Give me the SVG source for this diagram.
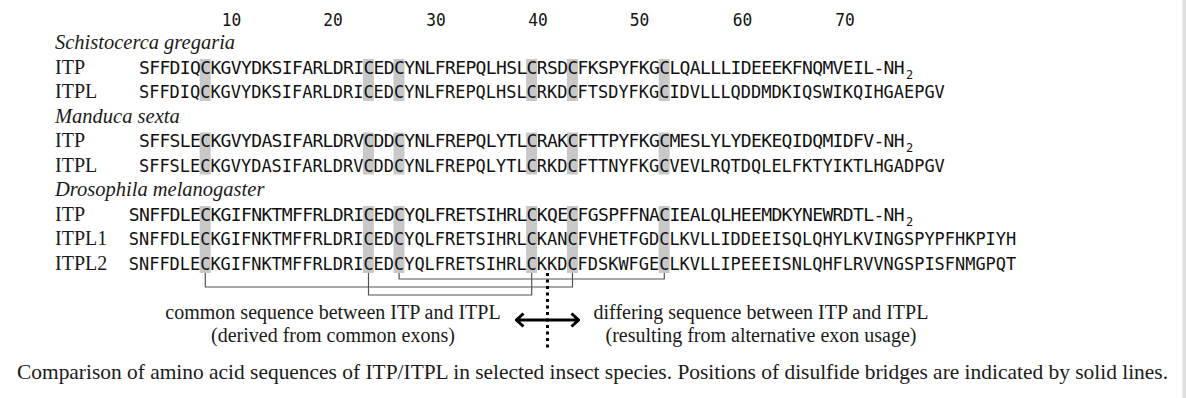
<svg xmlns="http://www.w3.org/2000/svg" width="1186" height="398" viewBox="0 0 1186 398">
<style>
.seq{font-family:"DejaVu Sans Mono","Liberation Mono",monospace;font-size:18px;fill:#111}
.num{font-family:"DejaVu Sans Mono","Liberation Mono",monospace;font-size:18px;fill:#111;text-anchor:middle}
.lab{font-family:"Liberation Serif","Times New Roman",serif;font-size:20px;fill:#1a1a1a}
.sp{font-family:"Liberation Serif","Times New Roman",serif;font-size:20.5px;font-style:italic;fill:#1a1a1a}
.note{font-family:"Liberation Serif","Times New Roman",serif;font-size:20px;fill:#1a1a1a;text-anchor:middle}
.cap{font-family:"Liberation Serif","Times New Roman",serif;font-size:21px;fill:#1a1a1a}
.hl{fill:#c8c8c8}
.sub{font-family:"DejaVu Sans Mono","Liberation Mono",monospace;font-size:12px;fill:#111}
.br{fill:none;stroke:#555;stroke-width:1.2}
</style>
<defs>
<marker id="chev" viewBox="0 0 10 16" markerWidth="10" markerHeight="16" refX="9" refY="8" orient="auto-start-reverse" markerUnits="userSpaceOnUse">
<path d="M1.5 1.5 L8.5 8 L1.5 14.5" fill="none" stroke="#000" stroke-width="3"/>
</marker>
</defs>
<rect x="0" y="0" width="1186" height="398" fill="#fff"/>
<rect x="1182.5" y="0" width="3.5" height="398" fill="#dedede"/>

<g id="highlights">
<g id="hl-schistocerca">
<rect class="hl" x="199.7" y="59" width="11" height="42"/>
<rect class="hl" x="362.9" y="59" width="11" height="42"/>
<rect class="hl" x="393.5" y="59" width="11" height="42"/>
<rect class="hl" x="526.1" y="59" width="11" height="42"/>
<rect class="hl" x="566.9" y="59" width="11" height="42"/>
<rect class="hl" x="658.7" y="59" width="11" height="42"/>
</g>
<g id="hl-manduca">
<rect class="hl" x="199.7" y="132.5" width="11" height="42"/>
<rect class="hl" x="362.9" y="132.5" width="11" height="42"/>
<rect class="hl" x="393.5" y="132.5" width="11" height="42"/>
<rect class="hl" x="526.1" y="132.5" width="11" height="42"/>
<rect class="hl" x="566.9" y="132.5" width="11" height="42"/>
<rect class="hl" x="658.7" y="132.5" width="11" height="42"/>
</g>
<g id="hl-drosophila">
<rect class="hl" x="199.7" y="206" width="11" height="67"/>
<rect class="hl" x="362.9" y="206" width="11" height="67"/>
<rect class="hl" x="393.5" y="206" width="11" height="67"/>
<rect class="hl" x="526.1" y="206" width="11" height="67"/>
<rect class="hl" x="566.9" y="206" width="11" height="67"/>
<rect class="hl" x="658.7" y="206" width="11" height="67"/>
</g>
</g>

<g id="numbers">
<text class="num" x="231.5" y="25.5" textLength="19.5" lengthAdjust="spacingAndGlyphs">10</text>
<text class="num" x="333" y="25.5" textLength="19.5" lengthAdjust="spacingAndGlyphs">20</text>
<text class="num" x="436" y="25.5" textLength="19.5" lengthAdjust="spacingAndGlyphs">30</text>
<text class="num" x="538" y="25.5" textLength="19.5" lengthAdjust="spacingAndGlyphs">40</text>
<text class="num" x="639.5" y="25.5" textLength="19.5" lengthAdjust="spacingAndGlyphs">50</text>
<text class="num" x="742.5" y="25.5" textLength="19.5" lengthAdjust="spacingAndGlyphs">60</text>
<text class="num" x="845" y="25.5" textLength="19.5" lengthAdjust="spacingAndGlyphs">70</text>
</g>

<g id="species-schistocerca"><text class="sp" x="55" y="49">Schistocerca gregaria</text></g>
<g id="schistocerca-itp">
<text class="lab" x="55" y="73.5">ITP</text>
<text class="seq" x="139 149.2 159.4 169.6 179.8 190 200.2 210.4 220.6 230.8 241 251.2 261.4 271.6 281.8 292 302.2 312.4 322.6 332.8 343 353.2 363.4 373.6 383.8 394 404.2 414.4 424.6 434.8 445 455.2 465.4 475.6 485.8 496 506.2 516.4 526.6 536.8 547 557.2 567.4 577.6 587.8 598 608.2 618.4 628.6 638.8 649 659.2 669.4 679.6 689.8 700 710.2 720.4 730.6 740.8 751 761.2 771.4 781.6 791.8 802 812.2 822.4 832.6 842.8 853 863.2 873.4 883.6 893.8" y="73.5">SFFDIQCKGVYDKSIFARLDRICEDCYNLFREPQLHSLCRSDCFKSPYFKGCLQALLLIDEEEKFNQMVEIL-NH</text>
<text class="sub" x="906" y="78.5">2</text>
</g>
<g id="schistocerca-itpl">
<text class="lab" x="55" y="98">ITPL</text>
<text class="seq" x="139" y="98" textLength="805.8" lengthAdjust="spacingAndGlyphs">SFFDIQCKGVYDKSIFARLDRICEDCYNLFREPQLHSLCRKDCFTSDYFKGCIDVLLLQDDMDKIQSWIKQIHGAEPGV</text>
</g>

<g id="species-manduca"><text class="sp" x="55" y="122.5">Manduca sexta</text></g>
<g id="manduca-itp">
<text class="lab" x="55" y="147">ITP</text>
<text class="seq" x="139 149.2 159.4 169.6 179.8 190 200.2 210.4 220.6 230.8 241 251.2 261.4 271.6 281.8 292 302.2 312.4 322.6 332.8 343 353.2 363.4 373.6 383.8 394 404.2 414.4 424.6 434.8 445 455.2 465.4 475.6 485.8 496 506.2 516.4 526.6 536.8 547 557.2 567.4 577.6 587.8 598 608.2 618.4 628.6 638.8 649 659.2 669.4 679.6 689.8 700 710.2 720.4 730.6 740.8 751 761.2 771.4 781.6 791.8 802 812.2 822.4 832.6 842.8 853 863.2 873.4 883.6 893.8" y="147">SFFSLECKGVYDASIFARLDRVCDDCYNLFREPQLYTLCRAKCFTTPYFKGCMESLYLYDEKEQIDQMIDFV-NH</text>
<text class="sub" x="906" y="152">2</text>
</g>
<g id="manduca-itpl">
<text class="lab" x="55" y="171.5">ITPL</text>
<text class="seq" x="139" y="171.5" textLength="805.8" lengthAdjust="spacingAndGlyphs">SFFSLECKGVYDASIFARLDRVCDDCYNLFREPQLYTLCRKDCFTTNYFKGCVEVLRQTDQLELFKTYIKTLHGADPGV</text>
</g>

<g id="species-drosophila"><text class="sp" x="55" y="196">Drosophila melanogaster</text></g>
<g id="drosophila-itp">
<text class="lab" x="55" y="220.5">ITP</text>
<text class="seq" x="128.8 139 149.2 159.4 169.6 179.8 190 200.2 210.4 220.6 230.8 241 251.2 261.4 271.6 281.8 292 302.2 312.4 322.6 332.8 343 353.2 363.4 373.6 383.8 394 404.2 414.4 424.6 434.8 445 455.2 465.4 475.6 485.8 496 506.2 516.4 526.6 536.8 547 557.2 567.4 577.6 587.8 598 608.2 618.4 628.6 638.8 649 659.2 669.4 679.6 689.8 700 710.2 720.4 730.6 740.8 751 761.2 771.4 781.6 791.8 802 812.2 822.4 832.6 842.8 853 863.2 873.4 883.6 893.8" y="220.5">SNFFDLECKGIFNKTMFFRLDRICEDCYQLFRETSIHRLCKQECFGSPFFNACIEALQLHEEMDKYNEWRDTL-NH</text>
<text class="sub" x="906" y="225.5">2</text>
</g>
<g id="drosophila-itpl1">
<text class="lab" x="55" y="245">ITPL1</text>
<text class="seq" x="128.8" y="245" textLength="887.4" lengthAdjust="spacingAndGlyphs">SNFFDLECKGIFNKTMFFRLDRICEDCYQLFRETSIHRLCKANCFVHETFGDCLKVLLIDDEEISQLQHYLKVINGSPYPFHKPIYH</text>
</g>
<g id="drosophila-itpl2">
<text class="lab" x="55" y="269.5">ITPL2</text>
<text class="seq" x="128.8" y="269.5" textLength="887.4" lengthAdjust="spacingAndGlyphs">SNFFDLECKGIFNKTMFFRLDRICEDCYQLFRETSIHRLCKKDCFDSKWFGECLKVLLIPEEEISNLQHFLRVVNGSPISFNMGPQT</text>
</g>

<g id="connectors">
<path class="br" d="M205.3 273 V287 H572.5 V273"/>
<path class="br" d="M368.5 273 V295 H531.7 V273"/>
<path class="br" d="M399.1 273 V279 H664.3 V273"/>
<line x1="547.5" y1="273" x2="547.5" y2="350" stroke="#000" stroke-width="3" stroke-dasharray="3 3.5"/>
<line x1="516" y1="320" x2="579" y2="320" stroke="#000" stroke-width="3" marker-start="url(#chev)" marker-end="url(#chev)"/>
</g>

<g id="note-common">
<text class="note" x="333" y="318.5">common sequence between ITP and ITPL</text>
<text class="note" x="333" y="341.5">(derived from common exons)</text>
</g>
<g id="note-differing">
<text class="note" x="761" y="318.5">differing sequence between ITP and ITPL</text>
<text class="note" x="761" y="341.5">(resulting from alternative exon usage)</text>
</g>

<g id="caption">
<text class="cap" x="17" y="379" textLength="1151" lengthAdjust="spacingAndGlyphs">Comparison of amino acid sequences of ITP/ITPL in selected insect species. Positions of disulfide bridges are indicated by solid lines.</text>
</g>
</svg>
